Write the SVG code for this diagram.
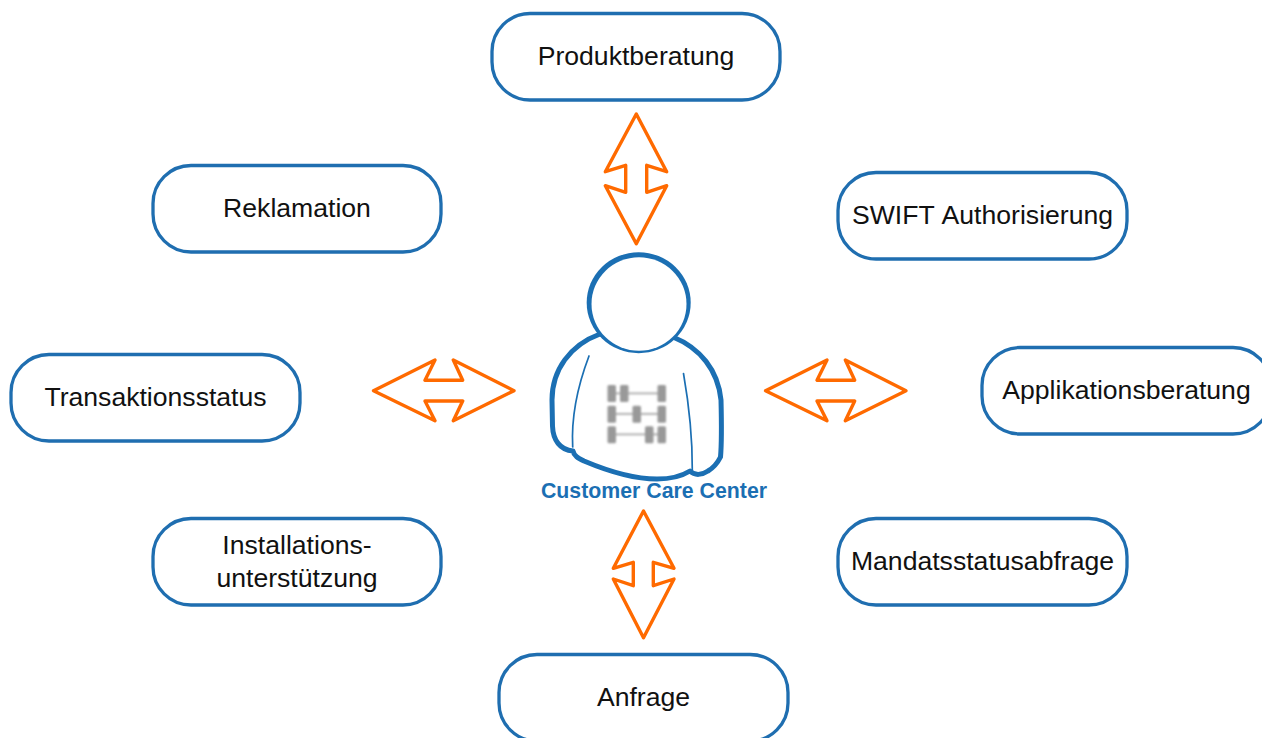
<svg xmlns="http://www.w3.org/2000/svg" width="1262" height="738" viewBox="0 0 1262 738">
<style>
.box{fill:#fff;stroke:#1f6eb0;stroke-width:3.3}
.t{font-family:"Liberation Sans",Arial,sans-serif;font-size:26.6px;fill:#111;text-anchor:middle}
.arr{fill:#fff;stroke:#ff6a00;stroke-width:3.4;stroke-linejoin:round}
.body{fill:#fff;stroke:#1b6fb3;stroke-width:5;stroke-linejoin:round;stroke-linecap:round}
.thin{fill:none;stroke:#1b6fb3;stroke-width:1.7;stroke-linecap:round}
.ab{fill:#999}
</style>
<defs>
<filter id="soft" x="-5%" y="-5%" width="110%" height="110%"><feGaussianBlur stdDeviation="0.9"/></filter>
<polygon id="hArr" class="arr" points="373.500,390.700 435,360 425,380.300 462.700,380.300 453.300,360 514,390.700 453.300,420.700 462.700,401 425,401 435,420.700"/>
</defs>
<g id="connectors">
<polygon class="arr" points="636.300,114 666.700,171.700 646.700,165.300 646.700,192.300 666.700,185.700 636.300,243.700 605.300,185.700 625.700,192.300 625.700,165.300 605.300,171.700"/>
<polygon class="arr" points="643.500,511 674,568.300 653.300,562.300 653.300,585.700 674,579 643.500,637.700 613.300,579 633.300,585.700 633.300,562.300 613.300,568.300"/>
<use href="#hArr"/>
<use href="#hArr" x="392"/>
</g>
<g id="node-produktberatung"><rect class="box" x="492" y="13.500" width="288" height="86.500" rx="38"/><text class="t" x="636" y="65">Produktberatung</text></g>
<g id="node-reklamation"><rect class="box" x="153" y="165.500" width="288" height="86.500" rx="38"/><text class="t" x="297" y="217">Reklamation</text></g>
<g id="node-swift"><rect class="box" x="838" y="172.500" width="289" height="86.500" rx="38"/><text class="t" x="982.500" y="224" word-spacing="1.500">SWIFT Authorisierung</text></g>
<g id="node-transaktionsstatus"><rect class="box" x="11" y="354.500" width="289" height="86.500" rx="38"/><text class="t" x="155.500" y="406">Transaktionsstatus</text></g>
<g id="node-applikationsberatung"><rect class="box" x="982" y="347.500" width="289" height="86.500" rx="38"/><text class="t" x="1126.500" y="399">Applikationsberatung</text></g>
<g id="node-installation"><rect class="box" x="153" y="518.500" width="288" height="86.500" rx="38"/><text class="t" x="297" y="554">Installations-</text><text class="t" x="297" y="587">unterstützung</text></g>
<g id="node-mandat"><rect class="box" x="838" y="518.500" width="289" height="86.500" rx="38"/><text class="t" x="982.500" y="570">Mandatsstatusabfrage</text></g>
<g id="node-anfrage"><rect class="box" x="499" y="654.500" width="289" height="86.500" rx="38"/><text class="t" x="643.500" y="706">Anfrage</text></g>
<g id="node-customer-care">
<path class="body" d="M600,334 C570,345 552,370 552,400 L552.500,426 C553,440 560,450 573,451 C574,456 578,458 584,461 C610,472 635,479 657,479 C670,479 682,476 690,471 C695,476 702,475 708,471 C713,468 718,462 720.500,457 C722,440 721.500,420 721,400 C718,370 700,348 673,337 Z"/>
<path class="thin" d="M589,356 C578,385 571,415 572.700,447"/>
<path class="thin" d="M683.500,373.500 C689,405 692.500,440 692.300,470"/>
<ellipse cx="638.700" cy="302.700" rx="52" ry="50.500" fill="#1b6fb3"/>
<ellipse cx="639" cy="304" rx="47.500" ry="46.800" fill="#fff"/>
<g filter="url(#soft)">
<rect x="610" y="392.500" width="52" height="1.800" fill="#aaa"/><rect x="610" y="413" width="52" height="1.800" fill="#aaa"/><rect x="610" y="433.500" width="52" height="1.800" fill="#aaa"/>
<rect class="ab" x="607.500" y="385" width="8.500" height="17" rx="1.500"/><rect class="ab" x="620" y="385" width="8.500" height="17" rx="1.500"/><rect class="ab" x="657.500" y="385" width="8.500" height="17" rx="1.500"/>
<rect class="ab" x="607.500" y="405.700" width="8.500" height="17" rx="1.500"/><rect class="ab" x="632.500" y="405.700" width="8.500" height="17" rx="1.500"/><rect class="ab" x="657.500" y="405.700" width="8.500" height="17" rx="1.500"/>
<rect class="ab" x="607.500" y="426.300" width="8.500" height="17" rx="1.500"/><rect class="ab" x="645" y="426.300" width="8.500" height="17" rx="1.500"/><rect class="ab" x="657.500" y="426.300" width="8.500" height="17" rx="1.500"/>
</g>
<text x="654" y="498" font-family="'Liberation Sans',Arial,sans-serif" font-size="21.300" font-weight="700" fill="#1b6fb3" text-anchor="middle">Customer Care Center</text>
</g>
</svg>
